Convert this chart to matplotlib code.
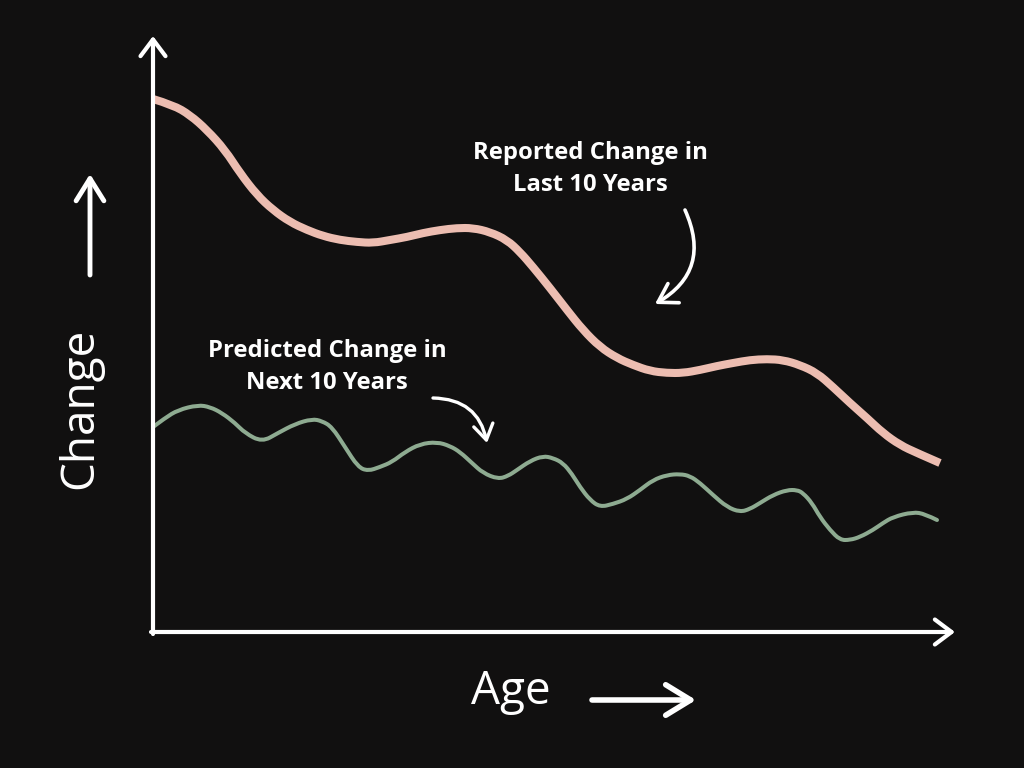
import matplotlib
matplotlib.use("Agg")
import matplotlib.pyplot as plt
from matplotlib.patches import FancyArrowPatch, PathPatch
from matplotlib.path import Path

W, H = 1024, 768
BG = "#111010"
PINK = "#ecbdb1"
GREEN = "#8eab91"

# Reported change in last 10 years (x = age units, y = change units)
reported_x = [0, 20, 37, 54, 72, 87, 104, 120, 137, 154, 170, 187, 204, 220, 237, 254,
              270, 287, 304, 320, 337, 354, 367, 380, 397, 414, 430, 447, 464, 480, 497,
              514, 530, 547, 564, 580, 597, 614, 630, 647, 664, 680, 697, 714, 730, 747,
              764, 787]
reported_y = [533, 527, 517, 502, 482, 459, 437, 422, 410, 402, 396, 392, 390, 389, 392, 395,
              399, 402, 404, 404, 400, 392, 380, 365, 344, 322, 302, 285, 274, 267, 261,
              259, 259, 262, 266, 269, 272, 273, 272, 267, 259, 245, 229, 214, 199, 187,
              179, 169]

# Predicted change in next 10 years
predicted_x = [0, 12, 25, 45, 57, 69, 82, 92, 109, 125, 142, 159, 169, 179, 192, 205, 215,
               227, 239, 252, 267, 284, 297, 307, 319, 330, 345, 355, 364, 377, 390, 400,
               410, 419, 427, 437, 447, 460, 474, 487, 500, 514, 527, 537, 547, 560, 574,
               587, 597, 607, 620, 634, 644, 650, 659, 667, 677, 687, 697, 707, 720, 730,
               740, 760, 772, 784]
predicted_y = [205, 214, 222, 227, 225, 219, 209, 199, 190, 199, 208, 213, 211, 205, 185, 165,
               161, 165, 170, 180, 188, 190, 186, 180, 169, 159, 153, 156, 162, 171, 176,
               174, 169, 158, 145, 132, 125, 128, 133, 142, 152, 157, 158, 156, 149, 137,
               125, 120, 123, 129, 137, 142, 142, 139, 129, 115, 102, 92, 92, 95, 102, 109,
               115, 120, 118, 112]

x_label = "Age"
y_label = "Change"
reported_label = ["Reported Change in", "Last 10 Years"]
predicted_label = ["Predicted Change in", "Next 10 Years"]

fig = plt.figure(figsize=(W / 100, H / 100), dpi=100, facecolor=BG)
ax = fig.add_axes([153 / W, 136 / H, 787 / W, 592 / H])
ax.set_facecolor(BG)
ax.set_xlim(0, 787)
ax.set_ylim(0, 592)
ax.axis("off")


def smooth_line(xs, ys, color, lw, cap):
    """Draw a polyline through the points as a smooth quadratic-Bezier path."""
    pts = list(zip(xs, ys))
    verts = [pts[0]]
    codes = [Path.MOVETO]
    for i in range(1, len(pts) - 1):
        mid = ((pts[i][0] + pts[i + 1][0]) / 2, (pts[i][1] + pts[i + 1][1]) / 2)
        if i == len(pts) - 2:
            mid = pts[-1]
        verts += [pts[i], mid]
        codes += [Path.CURVE3, Path.CURVE3]
    patch = PathPatch(Path(verts, codes), facecolor="none", edgecolor=color, lw=lw,
                      capstyle=cap, joinstyle="round", clip_on=False)
    ax.add_patch(patch)


smooth_line(reported_x, reported_y, PINK, 5.8, "butt")
smooth_line(predicted_x, predicted_y, GREEN, 2.9, "round")


def farrow(p0, p1, rad=0.0, lw=3.0, hl=0.6, hw=0.35):
    a = FancyArrowPatch((p0[0], H - p0[1]), (p1[0], H - p1[1]),
                        transform=None, connectionstyle=f"arc3,rad={rad}",
                        arrowstyle=f"->,head_length={hl * 10},head_width={hw * 10}",
                        color="white", lw=lw, capstyle="round", joinstyle="round",
                        shrinkA=0, shrinkB=0)
    fig.patches.append(a)


# axes with arrows
farrow((153, 634), (153, 36), lw=3.0, hl=1.2, hw=0.9)
farrow((151, 632), (955, 632), lw=3.0, hl=1.2, hw=0.9)

# decorative label arrows
farrow((90, 275), (90, 174), lw=3.5, hl=1.6, hw=1.0)
farrow((592, 700), (696, 700), lw=4.0, hl=1.8, hw=1.1)

# annotation arrows
farrow((685, 210), (655, 304), rad=-0.45, lw=2.6, hl=1.3, hw=0.8)
farrow((433, 398), (487, 443), rad=-0.4, lw=2.4, hl=1.1, hw=0.7)

fig.text(80 / W, 1 - 408 / H, y_label, rotation=90, ha="center", va="center",
         color="white", fontsize=33, family="Open Sans")
fig.text(511 / W, 1 - 692 / H, x_label, ha="center", va="center",
         color="white", fontsize=33, family="Open Sans")

for i, line in enumerate(reported_label):
    fig.text(590 / W, 1 - (153 + 32 * i) / H, line, ha="center", va="center",
             color="white", fontsize=17.2, fontweight="bold", family="Open Sans")
for i, line in enumerate(predicted_label):
    fig.text(327 / W, 1 - (351 + 32 * i) / H, line, ha="center", va="center",
             color="white", fontsize=17.2, fontweight="bold", family="Open Sans")

fig.savefig("out.png", dpi=100, facecolor=BG)
